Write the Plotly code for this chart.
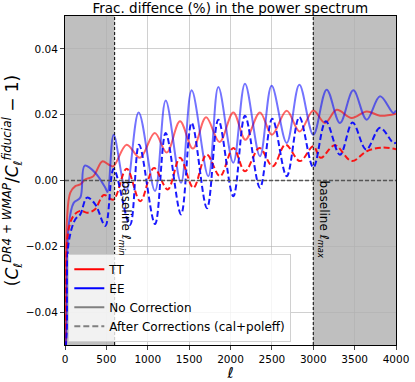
import plotly.graph_objects as go

# multipole positions and values (peaks / troughs)
ell_tt = [2, 10, 24, 64, 125, 185, 242, 342, 450, 530, 584, 745, 906, 1085, 1229, 1390, 1545,
          1705, 1868, 2034, 2180, 2356, 2500, 2679, 2835, 3001, 3142, 3283, 3464, 3646, 3807, 4000]
tt_nocorr = [-0.09, -0.05, -0.0118, -0.0037, -0.0017, -0.0012, 0.0003, 0.0013, 0.0058, 0.0048,
             0.0043, 0.0109, 0.0069, 0.0144, 0.0085, 0.018, 0.0097, 0.0192, 0.0117, 0.0207, 0.0124,
             0.0207, 0.0139, 0.0212, 0.0149, 0.0213, 0.0175, 0.0215, 0.019, 0.021, 0.0197, 0.0203]

ell_ttc = [2, 12, 44, 110, 190, 266, 360, 470, 584, 745, 910, 1075, 1241, 1390, 1551, 1712,
           1873, 2034, 2175, 2350, 2510, 2665, 2840, 3001, 3090, 3260, 3464, 3646, 3830, 4000]
tt_corr = [-0.1, -0.05, -0.0148, -0.0105, -0.0092, -0.0098, -0.0088, -0.0044, -0.0058, 0.0036,
           -0.0063, 0.0038, -0.0027, 0.0069, -0.0022, 0.0079, 0.0013, 0.0099, 0.0028, 0.0099,
           0.0043, 0.0109, 0.0059, 0.0104, 0.0069, 0.0107, 0.0059, 0.0089, 0.0100, 0.0095]

ell_ee = [2, 12, 20, 44, 105, 185, 238, 367, 487, 515, 588, 737, 890, 1088, 1217, 1402, 1531,
          1732, 1853, 2034, 2175, 2356, 2497, 2679, 2832, 3001, 3162, 3323, 3484, 3646, 3807, 3968, 4000]
ee_nocorr = [-0.09, -0.05, -0.043, -0.0138, -0.0068, -0.0052, 0.0045, 0.0023, -0.0022, -0.0035,
             0.0139, -0.0032, 0.0207, -0.0032, 0.0243, -0.0007, 0.0274, 0.0013, 0.0284, 0.0054,
             0.0294, 0.0074, 0.0288, 0.0114, 0.0291, 0.0139, 0.0276, 0.0175, 0.0274, 0.0185,
             0.0256, 0.0205, 0.0213]

ell_eec = [2, 12, 22, 44, 125, 185, 266, 367, 487, 588, 785, 895, 1088, 1217, 1402, 1531, 1716,
           1853, 2034, 2175, 2356, 2505, 2679, 2832, 3001, 3152, 3323, 3475, 3640, 3807, 3968, 4000]
ee_corr = [-0.1, -0.05, -0.045, -0.0189, -0.0118, -0.0103, -0.0052, -0.0073, -0.0138, 0.0035,
           -0.0135, 0.0109, -0.0132, 0.0144, -0.0103, 0.0175, -0.0084, 0.0185, -0.0048, 0.0197,
           -0.0022, 0.0188, 0.0013, 0.0193, 0.004, 0.018, 0.0078, 0.0176, 0.0094, 0.016, 0.0114, 0.0115]

lmin, lmax = 600, 3000
font = "DejaVu Sans"

fig = go.Figure()

fig.add_trace(go.Scatter(x=ell_tt, y=tt_nocorr, mode="lines", line=dict(color="rgba(255,0,0,0.6)", width=2, shape="spline"), showlegend=False))
fig.add_trace(go.Scatter(x=ell_ee, y=ee_nocorr, mode="lines", line=dict(color="rgba(0,0,255,0.55)", width=2, shape="spline"), showlegend=False))
fig.add_trace(go.Scatter(x=ell_ttc, y=tt_corr, mode="lines", line=dict(color="rgba(255,0,0,0.9)", width=2, dash="6px,3px", shape="spline"), showlegend=False))
fig.add_trace(go.Scatter(x=ell_eec, y=ee_corr, mode="lines", line=dict(color="rgba(0,0,255,0.9)", width=2, dash="6px,3px", shape="spline"), showlegend=False))

# legend entries
fig.add_trace(go.Scatter(x=[None], y=[None], mode="lines", line=dict(color="red", width=2), name="TT"))
fig.add_trace(go.Scatter(x=[None], y=[None], mode="lines", line=dict(color="blue", width=2), name="EE"))
fig.add_trace(go.Scatter(x=[None], y=[None], mode="lines", line=dict(color="grey", width=2), name="No Correction"))
fig.add_trace(go.Scatter(x=[None], y=[None], mode="lines", line=dict(color="grey", width=2, dash="6px,3px"), name="After Corrections (cal+poleff)"))

# masked ell ranges
fig.add_shape(type="rect", xref="x", yref="paper", x0=0, x1=lmin, y0=0, y1=1, fillcolor="rgba(128,128,128,0.5)", line_width=0, layer="below")
fig.add_shape(type="rect", xref="x", yref="paper", x0=lmax, x1=4000, y0=0, y1=1, fillcolor="rgba(128,128,128,0.5)", line_width=0, layer="below")
for xv in [lmin, lmax]:
    fig.add_shape(type="line", xref="x", yref="paper", x0=xv, x1=xv, y0=0, y1=1, line=dict(color="black", width=1, dash="3px,2px"))
fig.add_shape(type="line", xref="paper", yref="y", x0=0, x1=1, y0=0, y1=0, line=dict(color="#555555", width=1.5, dash="4px,2px"))

fig.add_annotation(x=lmin, y=0.0005, xref="x", yref="y", text="baseline <i>ℓ</i><sub><i>min</i></sub>", textangle=90,
                   showarrow=False, xanchor="left", yanchor="top", font=dict(family=font, size=12, color="black"))
fig.add_annotation(x=lmax, y=0.0005, xref="x", yref="y", text="baseline <i>ℓ</i><sub><i>max</i></sub>", textangle=90,
                   showarrow=False, xanchor="left", yanchor="top", font=dict(family=font, size=12, color="black"))

fig.update_layout(
    width=415, height=382,
    margin=dict(l=65, r=19, t=16, b=37),
    plot_bgcolor="white", paper_bgcolor="white",
    font=dict(family=font, size=12, color="black"),
    title=dict(text="Frac. diffence (%) in the power spectrum", x=0.555, xanchor="center", y=0.992, yanchor="top", font=dict(size=13.5)),
    legend=dict(x=0.01, y=0.01, xanchor="left", yanchor="bottom", bgcolor="rgba(255,255,255,0.8)",
                bordercolor="#d0d0d0", borderwidth=1, font=dict(size=12), tracegroupgap=0),
)
fig.update_xaxes(range=[0, 4000], dtick=500, ticks="outside", ticklen=4, showline=True, linecolor="black", mirror=True,
                 showgrid=True, gridcolor="rgba(176,176,176,0.6)", zeroline=False, automargin=False, tickfont=dict(size=10.5),
                 title=dict(text="<i>ℓ</i>", font=dict(size=15), standoff=2))
fig.update_yaxes(range=[-0.05, 0.05], tickvals=[-0.04, -0.02, 0, 0.02, 0.04], tickformat=".2f", ticks="outside", ticklen=4,
                 showline=True, linecolor="black", mirror=True, showgrid=True, gridcolor="rgba(176,176,176,0.6)", zeroline=False,
                 automargin=False, tickfont=dict(size=10.5),
                 title=dict(text="(<i>C</i><sub><i>ℓ</i></sub><sup><i>DR4 + WMAP</i></sup>/<i>C</i><sub><i>ℓ</i></sub><sup><i>fiducial</i></sup> − 1)",
                            font=dict(size=17), standoff=4))

# drop the page's default body margin so the figure sits at the window's corner
fig.write_html("out.html", config={"displayModeBar": False}, post_script="document.body.style.margin='0';")
